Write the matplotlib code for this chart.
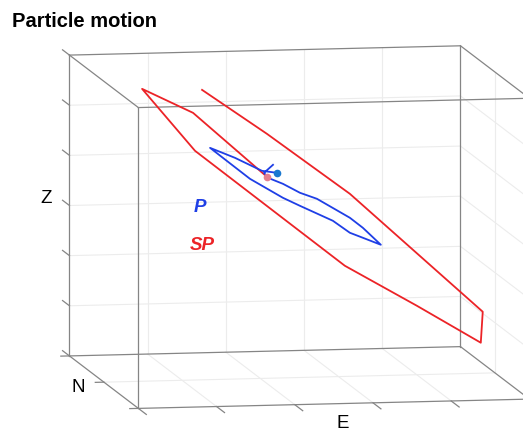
import numpy as np
import matplotlib
matplotlib.use("Agg")
import matplotlib.pyplot as plt
from mpl_toolkits.mplot3d import proj3d

# ---------------- data (E, N, Z) ----------------
p_e = [2.213, 2.021, 1.676, 1.357, 1.587, 1.868, 2.289, 2.507, 2.928, 3.145,
       3.311, 3.541, 3.311, 3.145, 2.724, 2.507, 2.289, 2.098, 2.047, 2.162]
p_n = [1.0, 1.0, 1.0, 1.0, 1.0, 1.0, 1.0, 1.0, 1.0, 1.0,
       1.0, 1.0, 1.0, 1.0, 1.0, 1.0, 1.0, 1.0, 1.0, 1.0]
p_z = [1.093, 1.140, 1.412, 1.623, 1.336, 0.986, 0.592, 0.424, 0.110, -0.137,
       -0.243, -0.391, -0.044, 0.162, 0.556, 0.684, 0.871, 0.998, 1.099, 1.255]

sp_e = [2.085, 1.996, 1.140, 0.488, 1.165, 3.081, 4.001, 4.819, 4.844, 3.145, 2.085, 1.255]
sp_n = [1.0, 1.0, 1.0, 1.0, 1.0, 1.0, 1.0, 1.0, 1.0, 1.0, 1.0, 1.0]
sp_z = [1.018, 1.141, 2.329, 2.832, 1.571, -0.793, -1.624, -2.392, -1.775, 0.640, 1.875, 2.783]

e_lim = (0.0, 5.0)
n_lim = (0.0, 2.0)
z_lim = (-3.0, 3.0)
e_ticks = [0, 1, 2, 3, 4, 5]
n_ticks = [0, 1, 2]
z_ticks = [-3, -2, -1, 0, 1, 2, 3]

title = "Particle motion"
labels = {"E": "E", "N": "N", "Z": "Z"}

# ---------------- figure ----------------
W, H, DPI = 523, 432, 100
fig = plt.figure(figsize=(W / DPI, H / DPI), dpi=DPI)
fig.patch.set_facecolor("white")
ax = fig.add_axes([0.1, 0.05, 400 / W, 400 / H], projection="3d",
                  computed_zorder=False)
ax.set_proj_type("ortho")
ax.view_init(elev=7.73, azim=-100.02)
ax.set_box_aspect((1.308, 1.305, 1.0))
ax.set_xlim(*e_lim)
ax.set_ylim(*n_lim)
ax.set_zlim(*z_lim)
ax.set_axis_off()

BOX = "#858585"
GRID = "#ececec"
BLUE = "#1f3fe6"
RED = "#ec2327"

x0, x1 = e_lim
y0, y1 = n_lim
z0, z1 = z_lim

# grid lines on the back panes
for e in e_ticks:
    if x0 < e < x1:
        ax.plot([e, e], [y1, y1], [z0, z1], color=GRID, lw=0.8, zorder=1)
        ax.plot([e, e], [y0, y1], [z0, z0], color=GRID, lw=0.8, zorder=1)
for z in z_ticks:
    if z0 < z < z1:
        ax.plot([x0, x1], [y1, y1], [z, z], color=GRID, lw=0.8, zorder=1)
        ax.plot([x1, x1], [y0, y1], [z, z], color=GRID, lw=0.8, zorder=1)
for n in n_ticks:
    if y0 < n < y1:
        ax.plot([x0, x1], [n, n], [z0, z0], color=GRID, lw=0.8, zorder=1)
        ax.plot([x1, x1], [n, n], [z0, z1], color=GRID, lw=0.8, zorder=1)

# box edges
for yy in n_lim:
    for zz in z_lim:
        ax.plot([x0, x1], [yy, yy], [zz, zz], color=BOX, lw=0.9, zorder=2)
for xx in e_lim:
    for zz in z_lim:
        ax.plot([xx, xx], [y0, y1], [zz, zz], color=BOX, lw=0.9, zorder=2)
for xx in e_lim:
    for yy in n_lim:
        ax.plot([xx, xx], [yy, yy], [z0, z1], color=BOX, lw=0.9, zorder=2)

# ticks
for z in z_ticks:
    ax.plot([x0, x0], [y1, y1 + 0.2], [z, z], color=BOX, lw=0.9, zorder=2)
for e in e_ticks:
    ax.plot([e, e], [y0, y0 - 0.23], [z0, z0], color=BOX, lw=0.9, zorder=2)
for n in n_ticks:
    ax.plot([x0, x0 - 0.11], [n, n], [z0, z0], color=BOX, lw=0.9, zorder=2)

# data
ax.plot(sp_e, sp_n, sp_z, color=RED, lw=1.3, zorder=3)
ax.plot(p_e, p_n, p_z, color=BLUE, lw=1.3, zorder=4)
ax.plot([p_e[0]], [p_n[0]], [p_z[0]], "o", color="#1b79d0", ms=5.5, mec="none", zorder=6)
ax.plot([sp_e[0]], [sp_n[0]], [sp_z[0]], "o", color="#e57f8f", ms=5.5, mec="none", zorder=5)

# ---------------- calibrate placement ----------------
corner_e = [x0, x1, x0, x1, x0, x0]
corner_n = [y1, y1, y1, y1, y0, y0]
corner_z = [z1, z1, z0, z0, z1, z0]
target_px = np.array([[69.3, 55.0], [460.7, 45.7], [69.3, 356.0],
                      [460.7, 346.7], [138.3, 108.3], [138.3, 407.7]])

fig.canvas.draw()
X, Y, _ = proj3d.proj_transform(np.array(corner_e, float), np.array(corner_n, float),
                                np.array(corner_z, float), ax.M)
cur = ax.transData.transform(np.column_stack([X, Y]))
tgt = np.column_stack([target_px[:, 0], H - target_px[:, 1]])
cm, tm = cur.mean(0), tgt.mean(0)
s = ((cur - cm) * (tgt - tm)).sum() / ((cur - cm) ** 2).sum()
t = tm - s * cm
bb = ax.get_position()
px0, py0, pw = bb.x0 * W, bb.y0 * H, bb.width * W
nx0, ny0, nw = s * px0 + t[0], s * py0 + t[1], s * pw
ax.set_position([nx0 / W, ny0 / H, nw / W, nw / H])

# ---------------- text ----------------
FONT = "Liberation Sans"
fig.text(12.5 / W, 1 - 26.7 / H, title, fontsize=14.5, fontweight="bold",
         family=FONT, ha="left", va="baseline")
fig.text(46 / W, 1 - 203.3 / H, labels["Z"], fontsize=13.5, family=FONT,
         ha="center", va="baseline")
fig.text(78 / W, 1 - 392.3 / H, labels["N"], fontsize=13.5, family=FONT,
         ha="center", va="baseline")
fig.text(343 / W, 1 - 428.3 / H, labels["E"], fontsize=13.5, family=FONT,
         ha="center", va="baseline")
fig.text(200.3 / W, 1 - 211.7 / H, "P", fontsize=13.5, family=FONT,
         fontweight="bold", style="italic", color=BLUE, ha="center", va="baseline")
fig.text(202 / W, 1 - 249.5 / H, "SP", fontsize=13.5, family=FONT,
         fontweight="bold", style="italic", color=RED, ha="center", va="baseline")

fig.savefig("out.png", dpi=DPI, facecolor="white")
